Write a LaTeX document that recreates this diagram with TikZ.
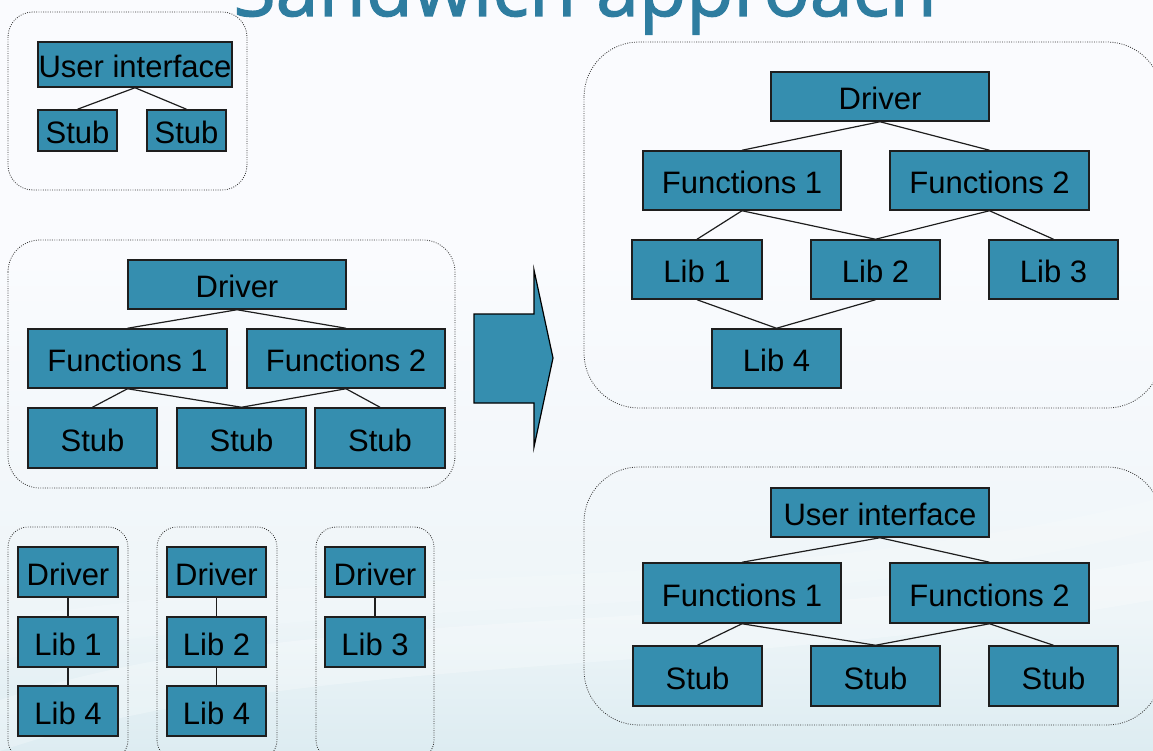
\documentclass[tikz,border=0pt]{standalone}
\usepackage{fontspec}
\setmainfont{Liberation Sans}
\newfontfamily\titlefont[FakeBold=1.6]{Open Sans}
\definecolor{boxblue}{RGB}{53,142,175}
\definecolor{titleblue}{RGB}{46,125,160}
\definecolor{edgegray}{RGB}{30,30,30}
\definecolor{framegray}{RGB}{55,55,55}
\definecolor{bgtop}{RGB}{250,251,254}
\definecolor{bgmid}{RGB}{238,245,248}
\definecolor{bglow}{RGB}{200,225,233}
\definecolor{bgbot}{RGB}{165,206,219}
\pgfdeclareverticalshading{slidebg}{100bp}{%
  color(0bp)=(bgbot); color(14bp)=(bglow); color(34bp)=(bgmid);
  color(58bp)=(bgtop); color(100bp)=(bgtop)}
\tikzset{
  blk/.style={draw=edgegray, line width=1.5pt, fill=boxblue, inner sep=0pt,
    font=\fontsize{31}{35}\selectfont, text=black,
    text height=26pt, text depth=0pt},
  link/.style={draw=edgegray, line width=1.2pt},
  frame/.style={draw=framegray, line width=0.8pt, dash pattern=on 0.9pt off 1.4pt},
}
\begin{document}
\begin{tikzpicture}[x=1pt, y=-1pt]
\useasboundingbox (0,0) rectangle (1153,751);
% slide background
\fill[shading=slidebg] (0,0) rectangle (1153,751);
\fill[white, opacity=0.25] (0,700) .. controls (300,600) and (700,640) .. (1153,560)
  -- (1153,600) .. controls (700,680) and (300,650) .. (0,751) -- cycle;
\fill[white, opacity=0.15] (0,620) .. controls (350,560) and (750,600) .. (1153,500)
  -- (1153,530) .. controls (750,630) and (350,590) .. (0,660) -- cycle;

% title
\node[anchor=base, text=titleblue, font=\titlefont\fontsize{77}{80}\selectfont]
  (title) at (585,16) {Sandwich approach};

% ---- user interface with stubs
\draw[frame, rounded corners=25] (8,12) rectangle (247,190);
\node[blk, minimum width=194, minimum height=45] (tlUI) at (135,64.5) {User interface};
\node[blk, minimum width=79, minimum height=41] (tlS1) at (77.5,130.5) {Stub};
\node[blk, minimum width=79, minimum height=41] (tlS2) at (186.5,130.5) {Stub};
\draw[link] (tlUI.south) -- (tlS1.north);
\draw[link] (tlUI.south) -- (tlS2.north);

% ---- driver, functions and stubs
\draw[frame, rounded corners=32] (8,240) rectangle (455,488);
\node[blk, minimum width=218, minimum height=49] (mlD) at (237,284.5) {Driver};
\node[blk, minimum width=199, minimum height=59] (mlF1) at (127.5,358.5) {Functions 1};
\node[blk, minimum width=198, minimum height=59] (mlF2) at (346,358.5) {Functions 2};
\node[blk, minimum width=129, minimum height=60] (mlS1) at (92.5,438) {Stub};
\node[blk, minimum width=129, minimum height=60] (mlS2) at (241.5,438) {Stub};
\node[blk, minimum width=130, minimum height=60] (mlS3) at (380,438) {Stub};
\draw[link] (mlD.south) -- (mlF1.north);
\draw[link] (mlD.south) -- (mlF2.north);
\draw[link] (mlF1.south) -- (mlS1.north);
\draw[link] (mlF1.south) -- (mlS2.north);
\draw[link] (mlF2.south) -- (mlS2.north);
\draw[link] (mlF2.south) -- (mlS3.north);

% ---- drivers for the libraries
\draw[frame, rounded corners=20] (8,527) rectangle (128,760);
\node[blk, minimum width=100, minimum height=50] (c1D) at (68,572) {Driver};
\node[blk, minimum width=100, minimum height=50] (c1L) at (68,642) {Lib 1};
\node[blk, minimum width=100, minimum height=50] (c1L4) at (68,711) {Lib 4};
\draw[link] (c1D.south) -- (c1L.north);
\draw[link] (c1L.south) -- (c1L4.north);

\draw[frame, rounded corners=20] (157,527) rectangle (277,760);
\node[blk, minimum width=99, minimum height=50] (c2D) at (216.5,572) {Driver};
\node[blk, minimum width=99, minimum height=50] (c2L) at (216.5,642) {Lib 2};
\node[blk, minimum width=99, minimum height=50] (c2L4) at (216.5,711) {Lib 4};
\draw[link] (c2D.south) -- (c2L.north);
\draw[link] (c2L.south) -- (c2L4.north);

\draw[frame, rounded corners=20] (316,527) rectangle (434,760);
\node[blk, minimum width=100, minimum height=50] (c3D) at (375,572) {Driver};
\node[blk, minimum width=100, minimum height=50] (c3L) at (375,642) {Lib 3};
\draw[link] (c3D.south) -- (c3L.north);

% ---- block arrow
\filldraw[fill=boxblue, draw=black, line width=1.2pt, line join=miter]
  (474,314) -- (534,314) -- (534,270) -- (553,358) -- (534,447) -- (534,403)
  -- (474,403) -- cycle;

% ---- integrated driver side
\draw[frame, rounded corners=55] (584,42) rectangle (1162,408);
\node[blk, minimum width=218, minimum height=49] (trD) at (880,96.5) {Driver};
\node[blk, minimum width=198, minimum height=59] (trF1) at (742,180.5) {Functions 1};
\node[blk, minimum width=199, minimum height=59] (trF2) at (989.5,180.5) {Functions 2};
\node[blk, minimum width=130, minimum height=59] (trL1) at (697,269.5) {Lib 1};
\node[blk, minimum width=129, minimum height=59] (trL2) at (875.5,269.5) {Lib 2};
\node[blk, minimum width=129, minimum height=59] (trL3) at (1053.5,269.5) {Lib 3};
\node[blk, minimum width=129, minimum height=59] (trL4) at (776.5,358.5) {Lib 4};
\draw[link] (trD.south) -- (trF1.north);
\draw[link] (trD.south) -- (trF2.north);
\draw[link] (trF1.south) -- (trL1.north);
\draw[link] (trF1.south) -- (trL2.north);
\draw[link] (trF2.south) -- (trL2.north);
\draw[link] (trF2.south) -- (trL3.north);
\draw[link] (trL1.south) -- (trL4.north);
\draw[link] (trL2.south) -- (trL4.north);

% ---- integrated user interface side
\draw[frame, rounded corners=55] (584,467) rectangle (1162,725);
\node[blk, minimum width=218, minimum height=49] (brUI) at (880,512.5) {User interface};
\node[blk, minimum width=198, minimum height=60] (brF1) at (742,593) {Functions 1};
\node[blk, minimum width=199, minimum height=60] (brF2) at (989.5,593) {Functions 2};
\node[blk, minimum width=129, minimum height=60] (brS1) at (697.5,676) {Stub};
\node[blk, minimum width=129, minimum height=60] (brS2) at (875.5,676) {Stub};
\node[blk, minimum width=129, minimum height=60] (brS3) at (1053.5,676) {Stub};
\draw[link] (brUI.south) -- (brF1.north);
\draw[link] (brUI.south) -- (brF2.north);
\draw[link] (brF1.south) -- (brS1.north);
\draw[link] (brF1.south) -- (brS2.north);
\draw[link] (brF2.south) -- (brS2.north);
\draw[link] (brF2.south) -- (brS3.north);
\end{tikzpicture}
\end{document}
